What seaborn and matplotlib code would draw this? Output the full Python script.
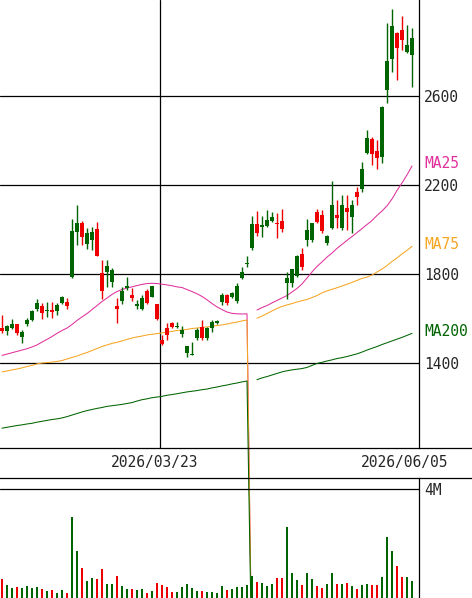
import numpy as np
import pandas as pd
import matplotlib
matplotlib.use("Agg")
import matplotlib.pyplot as plt
import seaborn as sns

# daily candles (oldest -> newest)
opens = [1558, 1545, 1559, 1575, 1515, 1575, 1593, 1643, 1656, 1635,
         1638, 1634, 1668, 1675, 1785, 1987, 2028, 1933, 1953, 2001,
         1806, 1810, 1765, 1656, 1680, 1738, 1706, 1656, 1643, 1725,
         1695, 1665, 1503, 1556, 1578, 1560, 1530, 1444, 1437, 1511,
         1560, 1511, 1556, 1578, 1675, 1706, 1698, 1680, 1781, 1843,
         1915, 2025, 2010, 2017, 2040, 2031, 2040, 1758, 1758, 1791,
         1890, 1953, 1953, 2080, 2065, 1938, 2008, 2065, 2005, 2098,
         2058, 2170, 2181, 2342, 2405, 2354, 2327, 2627, 2765, 2882,
         2897, 2799, 2784]
highs = [1615, 1571, 1596, 1577, 1548, 1601, 1638, 1689, 1668, 1673,
         1673, 1670, 1701, 1691, 2047, 2110, 2038, 2008, 2013, 2035,
         1863, 1863, 1826, 1691, 1740, 1785, 1738, 1683, 1706, 1731,
         1746, 1665, 1526, 1578, 1586, 1586, 1566, 1476, 1496, 1556,
         1593, 1563, 1593, 1593, 1716, 1710, 1720, 1758, 1830, 1881,
         2061, 2084, 2061, 2088, 2080, 2075, 2091, 1810, 1821, 1885,
         1915, 2046, 2031, 2091, 2088, 1975, 2218, 2133, 2155, 2155,
         2133, 2192, 2305, 2447, 2417, 2402, 2555, 2929, 2989, 2889,
         2957, 2919, 2904]
lows = [1535, 1526, 1551, 1526, 1491, 1568, 1590, 1634, 1598, 1605,
        1604, 1616, 1665, 1643, 1781, 1930, 1930, 1911, 1908, 1882,
        1688, 1743, 1740, 1578, 1664, 1728, 1680, 1641, 1638, 1665,
        1695, 1593, 1481, 1503, 1556, 1556, 1518, 1426, 1436, 1503,
        1503, 1503, 1541, 1574, 1661, 1661, 1691, 1668, 1776, 1830,
        1908, 1972, 1968, 2010, 2035, 1960, 1990, 1686, 1743, 1788,
        1818, 1926, 1945, 2028, 1983, 1930, 2001, 2005, 1998, 1998,
        1983, 2110, 2170, 2339, 2290, 2270, 2300, 2567, 2709, 2672,
        2807, 2792, 2642]
closes = [1545, 1566, 1575, 1533, 1538, 1593, 1634, 1671, 1623, 1638,
          1630, 1661, 1695, 1656, 1993, 2028, 1965, 1983, 1987, 1882,
          1725, 1836, 1818, 1641, 1725, 1746, 1691, 1664, 1691, 1671,
          1746, 1596, 1485, 1526, 1560, 1566, 1548, 1476, 1441, 1548,
          1511, 1556, 1586, 1589, 1706, 1671, 1713, 1747, 1808, 1846,
          2025, 1986, 2020, 2043, 2058, 2025, 2001, 1781, 1821, 1881,
          1833, 1998, 2031, 2035, 1995, 1971, 2110, 2053, 2110, 2080,
          2110, 2145, 2270, 2413, 2339, 2320, 2552, 2757, 2914, 2814,
          2852, 2829, 2859]
# volume in millions of shares
volume_m = [0.69, 0.48, 0.38, 0.41, 0.36, 0.45, 0.38, 0.41, 0.33, 0.27,
            0.29, 0.18, 0.29, 0.19, 2.97, 1.72, 1.11, 0.63, 0.72, 0.69,
            1.05, 0.51, 0.51, 0.82, 0.45, 0.34, 0.34, 0.30, 0.34, 0.19,
            0.27, 0.56, 0.48, 0.39, 0.23, 0.22, 0.41, 0.51, 0.38, 0.27,
            0.27, 0.22, 0.22, 0.19, 0.45, 0.29, 0.33, 0.41, 0.41, 0.48,
            0.82, 0.60, 0.54, 0.45, 0.51, 0.75, 0.75, 2.61, 0.92, 0.67,
            0.48, 0.92, 0.71, 0.45, 0.38, 0.51, 0.92, 0.51, 0.51, 0.56,
            0.45, 0.34, 0.48, 0.51, 0.48, 0.48, 0.78, 2.24, 1.72, 1.17,
            0.78, 0.78, 0.63]
# moving averages; index 50 is the broken data point (drops to 0)
ma25 = [1434, 1440, 1446, 1452, 1458, 1464, 1472, 1481, 1494, 1506,
        1519, 1533, 1546, 1557, 1573, 1591, 1607, 1622, 1640, 1658,
        1676, 1692, 1708, 1721, 1730, 1737, 1742, 1748, 1753, 1757,
        1758, 1757, 1754, 1751, 1747, 1742, 1739, 1730, 1721, 1711,
        1699, 1684, 1667, 1652, 1640, 1629, 1623, 1621, 1620, 1621,
        0, 1638, 1649, 1658, 1670, 1681, 1692, 1703, 1719, 1735,
        1755, 1782, 1809, 1834, 1854, 1876, 1894, 1915, 1933, 1951,
        1968, 1986, 2004, 2022, 2040, 2063, 2083, 2106, 2137, 2175,
        2209, 2245, 2285]
ma75 = [1360, 1364, 1369, 1373, 1378, 1384, 1389, 1396, 1400, 1402,
        1404, 1407, 1411, 1418, 1425, 1431, 1440, 1447, 1456, 1465,
        1474, 1481, 1488, 1493, 1499, 1506, 1512, 1517, 1521, 1526,
        1529, 1532, 1535, 1539, 1542, 1546, 1548, 1551, 1555, 1557,
        1560, 1562, 1565, 1568, 1571, 1575, 1580, 1584, 1589, 1593,
        0, 1601, 1611, 1622, 1634, 1645, 1654, 1661, 1667, 1674,
        1680, 1685, 1694, 1703, 1715, 1724, 1731, 1738, 1746, 1754,
        1762, 1771, 1780, 1786, 1795, 1809, 1822, 1838, 1856, 1872,
        1890, 1906, 1924]
ma200 = [1107, 1111, 1115, 1119, 1122, 1126, 1129, 1134, 1138, 1142,
         1146, 1149, 1153, 1159, 1166, 1173, 1180, 1186, 1191, 1196,
         1200, 1205, 1208, 1211, 1214, 1218, 1222, 1229, 1235, 1239,
         1244, 1247, 1250, 1255, 1258, 1262, 1266, 1270, 1273, 1276,
         1280, 1283, 1288, 1292, 1297, 1301, 1306, 1310, 1315, 1319,
         0, 1325, 1333, 1339, 1346, 1353, 1360, 1365, 1369, 1372,
         1375, 1380, 1389, 1398, 1403, 1409, 1414, 1420, 1424, 1429,
         1435, 1441, 1449, 1458, 1466, 1474, 1483, 1491, 1499, 1507,
         1515, 1524, 1533]
break_idx = 50

date_labels = ['2026/03/23', '2026/06/05']
date_idx = [32, 82]
price_ticks = [1400, 1800, 2200, 2600]
ma_names = ['MA25', 'MA75', 'MA200']

df = pd.DataFrame({'open': opens, 'high': highs, 'low': lows,
                   'close': closes, 'vol': volume_m,
                   'ma25': ma25, 'ma75': ma75, 'ma200': ma200})
df['i'] = np.arange(len(df))

sns.set_style('white')
plt.rcParams['font.family'] = ['DejaVu Sans Mono']

GREEN = '#006400'
RED = '#ee0000'
ma_colors = ['#e0309c', '#f5a623', '#006400']
up = df['close'] >= df['open']
colors = np.where(up, GREEN, RED)

W, H = 472, 598
PANEL_W = 419
fig = plt.figure(figsize=(W / 100, H / 100), dpi=100)
xl = (-0.4, len(df) + 0.4)
per_px = (xl[1] - xl[0]) / PANEL_W
right = PANEL_W / W

ax = fig.add_axes([0, (H - 448) / H, right, 448 / H])
ax_date = fig.add_axes([0, (H - 478) / H, 1, 30 / H])
ax_vol = fig.add_axes([0, 0, right, 120 / H])
for a in (ax_date, ax_vol):
    a.patch.set_alpha(0)

# price panel
ax.set_xlim(*xl)
ax.set_ylim(1018, 3031)
for p in price_ticks:
    ax.axhline(p, color='black', lw=0.9, zorder=1)
for d in date_idx[:-1]:
    ax.axvline(d - 0.4, color='black', lw=0.9, zorder=1)

ax.vlines(df['i'], df['low'], df['high'], colors=colors, lw=1.0, zorder=3)
body_lo = np.minimum(df['open'], df['close'])
body_h = np.maximum((df['close'] - df['open']).abs(), 5)
ax.bar(df['i'], body_h, bottom=body_lo, width=0.8, color=colors,
       linewidth=0, zorder=4)

for col, c in zip(['ma25', 'ma75', 'ma200'], ma_colors):
    first = df.iloc[:break_idx + 1]
    second = df.iloc[break_idx + 1:]
    sns.lineplot(x=first['i'], y=first[col], ax=ax, color=c, lw=0.75,
                 clip_on=False, zorder=2)
    sns.lineplot(x=second['i'], y=second[col], ax=ax, color=c, lw=0.75,
                 zorder=2)

ax.yaxis.tick_right()
ax.set_yticks(price_ticks)
ax.set_yticklabels([str(p) for p in price_ticks])
ax.tick_params(axis='y', length=0, pad=3.6, labelsize=10.5)
ax.set_xticks([])
ax.set_xlabel('')
ax.set_ylabel('')
for s in ['top', 'left', 'bottom']:
    ax.spines[s].set_visible(False)
ax.spines['right'].set_color('black')
ax.spines['right'].set_linewidth(0.9)

for name, col, c in zip(ma_names, ['ma25', 'ma75', 'ma200'], ma_colors):
    ax.text(1.012, df[col].iloc[-1] + 10, name, color=c, fontsize=10.5,
            transform=ax.get_yaxis_transform(), ha='left', va='center')

# date band (same index scale as the panels, but full figure width)
ax_date.set_xlim(xl[0], xl[0] + W * per_px)
ax_date.set_ylim(0, 1)
ax_date.set_xticks([])
ax_date.set_yticks([])
for s in ['left', 'right']:
    ax_date.spines[s].set_visible(False)
for s in ['top', 'bottom']:
    ax_date.spines[s].set_color('black')
    ax_date.spines[s].set_linewidth(0.9)
for lab, d in zip(date_labels, date_idx):
    ax_date.text(d - 1.5, 0.5, lab, ha='center', va='center', fontsize=10.5)

# volume panel
ax_vol.set_xlim(*xl)
ax_vol.set_ylim(0, 4 * 120 / 109)
ax_vol.bar(df['i'], df['vol'], width=0.28, color=colors, linewidth=0)
ax_vol.axhline(4, color='black', lw=0.9)
ax_vol.yaxis.tick_right()
ax_vol.set_yticks([4])
ax_vol.set_yticklabels(['4M'])
ax_vol.tick_params(axis='y', length=0, pad=3.6, labelsize=10.5)
ax_vol.set_xticks([])
for s in ['top', 'left', 'bottom']:
    ax_vol.spines[s].set_visible(False)
ax_vol.spines['right'].set_color('black')
ax_vol.spines['right'].set_linewidth(0.9)

fig.savefig('out.png', dpi=100)
